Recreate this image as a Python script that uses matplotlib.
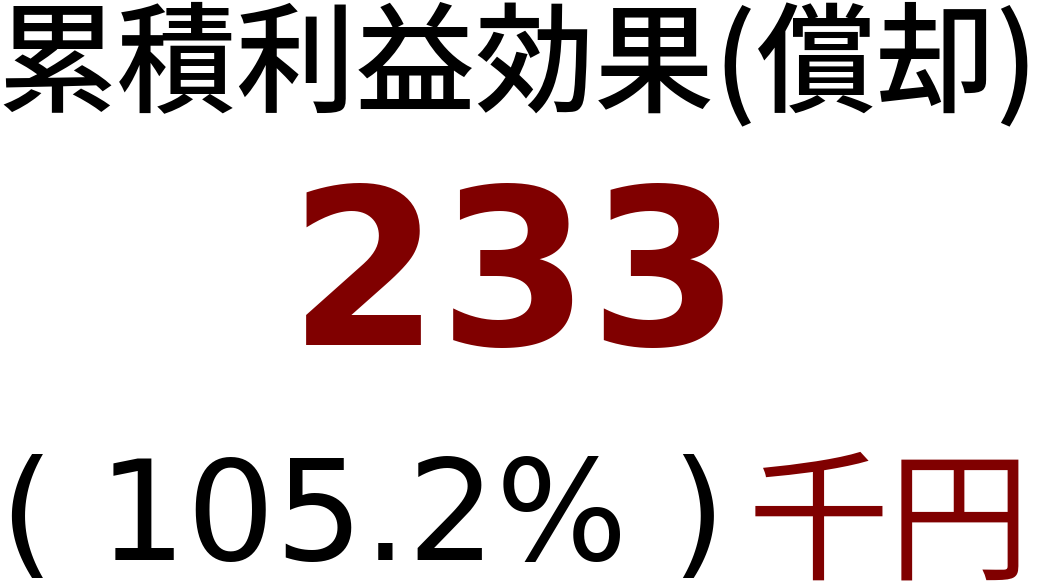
import matplotlib
matplotlib.use('Agg')
import matplotlib.pyplot as plt

title = '累積利益効果(償却)'
value = '233'
ratio = '105.2%'
unit = '千円'

dark_red = '#800000'

fig = plt.figure(figsize=(10.53, 5.86), dpi=100)
ax = fig.add_axes([0, 0, 1, 1])
ax.set_xlim(0, 1053)
ax.set_ylim(586, 0)
ax.axis('off')

ax.text(518, 66, title, fontsize=86, color='black', ha='center', va='center',
        family=['Noto Sans CJK JP', 'DejaVu Sans'], fontweight='medium')
ax.text(515, 284, value, fontsize=156, color=dark_red, ha='center', va='center',
        family='DejaVu Sans', fontweight='bold')
ax.text(0, 522, '( ' + ratio + ' )', fontsize=100, color='black', ha='left', va='center',
        family='DejaVu Sans')
ax.text(748, 528, unit, fontsize=102, color=dark_red, ha='left', va='center',
        family=['Noto Sans CJK JP', 'DejaVu Sans'])

fig.savefig('out.png', dpi=100)
